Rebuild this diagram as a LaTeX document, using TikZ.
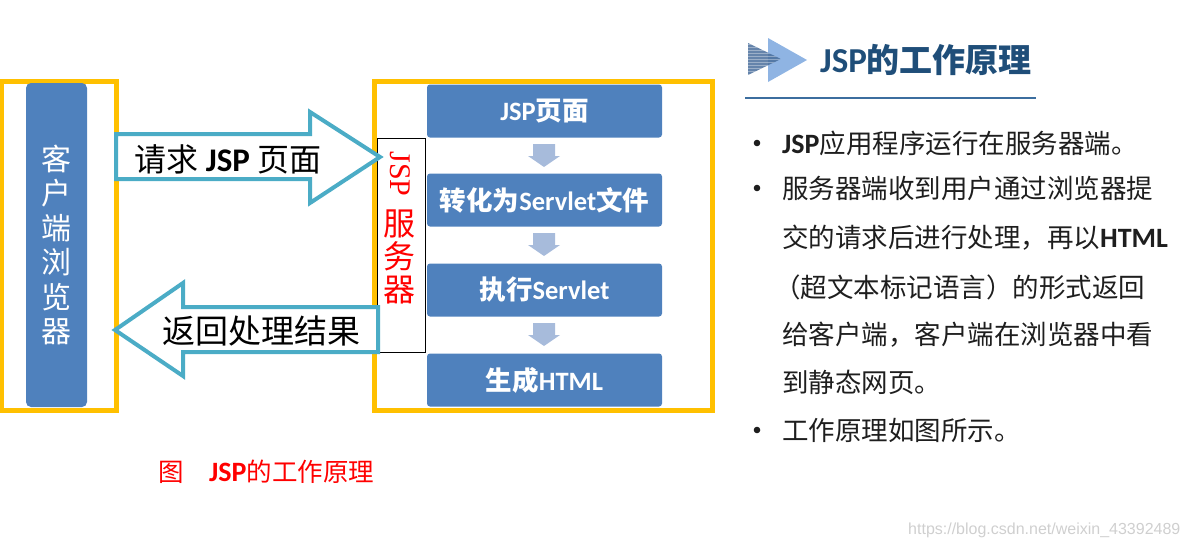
\documentclass[tikz,border=0pt]{standalone}
\usepackage{fontspec}
\setmainfont{Noto Sans CJK SC}
\newfontfamily\calfont{Carlito}
\newfontfamily\tnrfont{Liberation Serif}
\newfontfamily\arialfont{Liberation Sans}
\definecolor{ybox}{HTML}{FFC000}
\definecolor{bbox}{HTML}{4F81BD}
\definecolor{cyanl}{HTML}{4BACC6}
\definecolor{darr}{HTML}{A7BBDB}
\definecolor{ttl}{HTML}{1F4E79}
\definecolor{uline}{HTML}{3C6E9F}
\definecolor{txt}{HTML}{1E1E1E}
\definecolor{tri1}{HTML}{8FB4E3}
\definecolor{tri2}{HTML}{4A6F9C}
\definecolor{wm}{HTML}{CFCFCF}
\tikzset{
  container/.style={draw=ybox, line width=5pt, inner sep=0pt},
  stepbox/.style={fill=bbox, rounded corners=3pt, minimum width=235pt, minimum height=53pt,
    inner sep=0pt, text=white, font=\fontsize{26.5}{30}\selectfont\bfseries},
  bigarrow/.style={draw=cyanl, line width=4pt, fill=white, line join=miter},
  bullettext/.style={anchor=west, inner sep=0pt, text=txt, font=\fontsize{26.5}{30}\selectfont},
}
\newcommand{\downarr}[2]{%
  \fill[darr] (533,#1) -- (555,#1) -- (555,#1+12) -- (560,#1+12) -- (544,#2) -- (528,#1+12) -- (533,#1+12) -- cycle;}
\begin{document}
\begin{tikzpicture}[x=1pt,y=-1pt]
\useasboundingbox (0,0) rectangle (1189,549);

% containers
\node[container, minimum width=114.5pt, minimum height=329pt] (client) at (58.75,245.5) {};
\node[container, minimum width=338pt, minimum height=329pt] (server) at (543,245.5) {};

% browser bar
\node[fill=bbox, rounded corners=5pt, minimum width=61pt, minimum height=324pt, inner sep=0pt,
  text=white, align=center, font=\fontsize{30}{34.4}\selectfont] (browser) at (56.5,245)
  {客\\户\\端\\浏\\览\\器};

% JSP server box
\node[draw=black, line width=0.8pt, fill=white, minimum width=48pt, minimum height=214pt, inner sep=0pt] (jspbox) at (401,245) {};
\node[rotate=-90, text=red, inner sep=0pt, font=\fontsize{30}{30}\selectfont\tnrfont] (jsplbl) at (400,174) {JSP};
\node[text=red, inner sep=0pt, align=center, font=\fontsize{32}{33}\selectfont] (srvlbl) at (399,257) {服\\务\\器};

% steps
\node[stepbox] (s1) at (544.5,111) {{\calfont JSP}页面};
\node[stepbox] (s2) at (544.5,200) {转化为{\calfont Servlet}文件};
\node[stepbox] (s3) at (544.5,290) {执行{\calfont Servlet}};
\node[stepbox] (s4) at (544.5,380) {生成{\calfont HTML}};
\downarr{144}{167}
\downarr{233}{256}
\downarr{323}{346}

% big arrows
\draw[bigarrow] (116,134) -- (310,134) -- (310,112) -- (380,157) -- (310,203) -- (310,179) -- (116,179) -- cycle;
\draw[bigarrow] (378,307) -- (183,307) -- (183,283) -- (115,330) -- (183,376) -- (183,352) -- (378,352) -- cycle;
\node[inner sep=0pt, text=black, font=\fontsize{32}{34}\selectfont] (req) at (228,159) {请求 {\calfont\bfseries\fontsize{33}{34}\selectfont JSP} 页面};
\node[inner sep=0pt, text=black, font=\fontsize{33}{34}\selectfont] (resp) at (261,331) {返回处理结果};

% caption
\node[anchor=west, inner sep=0pt, text=red, font=\fontsize{25.5}{27}\selectfont] (cap) at (158,472) {图　{\calfont\bfseries\fontsize{28}{28}\selectfont JSP}的工作原理};

% title icon
\fill[tri1] (768,38) -- (807,60) -- (768,82) -- cycle;
\begin{scope}
\clip (748,43) -- (781,59) -- (748,75) -- cycle;
\fill[tri2, opacity=0.85] (748,43) rectangle (781,75);
\foreach \yy in {44.5,47.5,...,74.5} { \draw[white, opacity=0.35, line width=0.8pt] (748,\yy) -- (781,\yy); }
\end{scope}
\node[anchor=west, inner sep=0pt, text=ttl, font=\fontsize{33}{34}\selectfont\bfseries] (title) at (820,60) {{\calfont\fontsize{35}{36}\selectfont JSP}的工作原理};
\draw[uline, line width=2pt] (745,98) -- (1036,98);

% bullets
\foreach \yy in {143,188,430} { \fill[txt] (757,\yy) circle (3.3pt); }
\node[bullettext] (l1) at (782,143) {{\calfont\bfseries\fontsize{28}{30}\selectfont JSP}应用程序运行在服务器端。};
\node[bullettext] (l2) at (782,188) {服务器端收到用户通过浏览器提};
\node[bullettext] (l3) at (782,238) {交的请求后进行处理，再以{\calfont\bfseries\fontsize{28}{30}\selectfont HTML}};
\node[bullettext] (l4) at (774,287) {（超文本标记语言）的形式返回};
\node[bullettext] (l5) at (782,335) {给客户端，客户端在浏览器中看};
\node[bullettext] (l6) at (782,382) {到静态网页。};
\node[bullettext] (l7) at (782,430) {工作原理如图所示。};

% watermark
\node[anchor=west, inner sep=0pt, text=wm, font=\fontsize{16}{18}\selectfont\arialfont] (wmk) at (908,530) {https://blog.csdn.net/weixin\_43392489};
\end{tikzpicture}
\end{document}
